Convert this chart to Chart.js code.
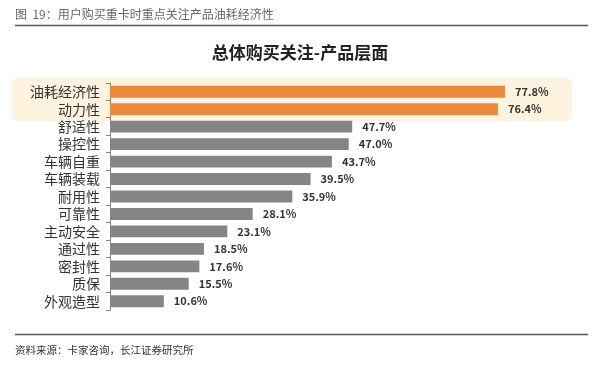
<!DOCTYPE html>
<html>
<head>
<meta charset="utf-8">
<script src="https://cdn.jsdelivr.net/npm/chart.js@4"></script>
<style>
    body { margin: 0; background: #fff; }
    canvas { display: block; }
</style>
</head>
<body>
<canvas id="chart" width="600" height="368"></canvas>
<script>
const categories = ['油耗经济性', '动力性', '舒适性', '操控性', '车辆自重', '车辆装载', '耐用性',
    '可靠性', '主动安全', '通过性', '密封性', '质保', '外观造型'];
const shares = [77.8, 76.4, 47.7, 47.0, 43.7, 39.5, 35.9, 28.1, 23.1, 18.5, 17.6, 15.5, 10.6];
const barColors = ['#ec8a3c', '#ec8a3c', '#858585', '#858585', '#858585', '#858585', '#858585',
    '#858585', '#858585', '#858585', '#858585', '#858585', '#858585'];

const FONT = '"Noto Sans CJK SC", "Noto Sans", sans-serif';

// header, highlight band and footer
const frame = {
    id: 'frame',
    beforeDraw(chart) {
        const ctx = chart.ctx;
        ctx.save();
        ctx.fillStyle = '#fff';
        ctx.fillRect(0, 0, chart.width, chart.height);

        // highlighted top two rows
        const y = chart.scales.y;
        const top = y.getPixelForValue(0) - 14;
        const bottom = y.getPixelForValue(1) + 12;
        ctx.fillStyle = '#fdf3df';
        ctx.beginPath();
        ctx.roundRect(12, top, 560, bottom - top, 6);
        ctx.fill();

        ctx.fillStyle = '#666';
        ctx.font = '12px ' + FONT;
        ctx.textBaseline = 'middle';
        ctx.fillText('图  19：用户购买重卡时重点关注产品油耗经济性', 15, 14);

        ctx.strokeStyle = '#555';
        ctx.lineWidth = 1.5;
        ctx.beginPath();
        ctx.moveTo(15, 25.5); ctx.lineTo(588, 25.5);
        ctx.moveTo(15, 334.5); ctx.lineTo(588, 334.5);
        ctx.stroke();

        ctx.fillStyle = '#222';
        ctx.font = 'bold 17px ' + FONT;
        ctx.textAlign = 'center';
        ctx.fillText('总体购买关注-产品层面', 300, 53);

        ctx.fillStyle = '#333';
        ctx.font = '10.5px ' + FONT;
        ctx.textAlign = 'left';
        ctx.fillText('资料来源：卡家咨询，长江证券研究所', 15, 350);
        ctx.restore();
    }
};

// value labels at bar ends
const valueLabels = {
    id: 'valueLabels',
    afterDatasetsDraw(chart) {
        const ctx = chart.ctx;
        ctx.save();
        ctx.fillStyle = '#333';
        ctx.font = 'bold 11px ' + FONT;
        ctx.textBaseline = 'middle';
        chart.getDatasetMeta(0).data.forEach(function (bar, i) {
            ctx.fillText(shares[i].toFixed(1) + '%', bar.x + 10, bar.y);
        });
        ctx.restore();
    }
};

new Chart(document.getElementById('chart').getContext('2d'), {
    type: 'bar',
    data: {
        labels: categories,
        datasets: [{
            data: shares,
            backgroundColor: barColors,
            barPercentage: 0.68,
            categoryPercentage: 1
        }]
    },
    options: {
        indexAxis: 'y',
        responsive: false,
        animation: false,
        layout: {
            padding: {left: 0, top: 83, right: 33, bottom: 58}
        },
        plugins: {
            legend: {display: false},
            tooltip: {enabled: false}
        },
        scales: {
            x: {
                display: false,
                min: 0,
                max: 90
            },
            y: {
                afterFit: function (scale) {
                    scale.width = 110;
                },
                grid: {
                    drawOnChartArea: false,
                    tickLength: 4,
                    color: '#888'
                },
                border: {color: '#888', width: 1},
                ticks: {
                    autoSkip: false,
                    color: '#333',
                    padding: 6,
                    font: {family: FONT, size: 14}
                }
            }
        }
    },
    plugins: [frame, valueLabels]
});
</script>
</body>
</html>
